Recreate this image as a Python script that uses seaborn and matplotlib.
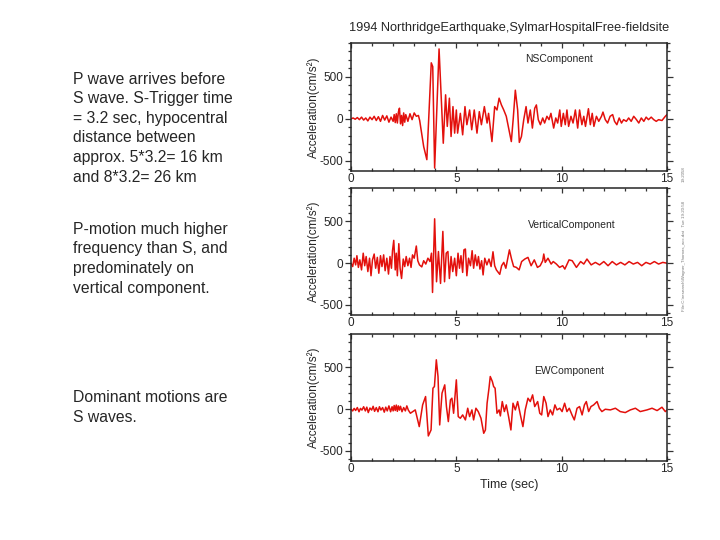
import pandas as pd
import matplotlib.pyplot as plt
import seaborn as sns
from matplotlib.ticker import MultipleLocator

ns_time = [0.0, 0.1, 0.2, 0.3, 0.4, 0.5, 0.6, 0.7, 0.8, 0.9, 1.0, 1.1, 1.2, 1.3, 1.4, 1.5,
           1.6, 1.7, 1.8, 1.9, 2.0, 2.05, 2.1, 2.15, 2.2, 2.25, 2.3, 2.35, 2.4, 2.45, 2.5,
           2.55, 2.6, 2.7, 2.8, 2.9, 3.0, 3.1, 3.2, 3.26, 3.45, 3.6, 3.81, 3.88, 3.97, 4.18,
           4.38, 4.49, 4.57, 4.67, 4.75, 4.84, 4.92, 5.0, 5.06, 5.19, 5.3, 5.41, 5.5, 5.63,
           5.73, 5.85, 5.98, 6.09, 6.19, 6.33, 6.46, 6.53, 6.69, 6.82, 6.93, 7.03, 7.14,
           7.25, 7.37, 7.48, 7.61, 7.7, 7.8, 7.91, 7.99, 8.09, 8.2, 8.31, 8.4, 8.51, 8.61,
           8.72, 8.8, 8.89, 8.99, 9.1, 9.19, 9.3, 9.4, 9.49, 9.62, 9.72, 9.81, 9.91, 9.98,
           10.08, 10.17, 10.25, 10.33, 10.44, 10.54, 10.65, 10.76, 10.85, 10.96, 11.05,
           11.13, 11.27, 11.36, 11.45, 11.53, 11.65, 11.76, 11.89, 11.96, 12.07, 12.18,
           12.3, 12.42, 12.51, 12.62, 12.73, 12.84, 12.94, 13.07, 13.18, 13.3, 13.42, 13.55,
           13.66, 13.78, 13.9, 14.01, 14.12, 14.25, 14.37, 14.49, 14.6, 14.76, 14.92, 15.0]
ns_accel = [0, 10, -5, 15, -10, 20, -15, 10, -25, 20, -10, 30, -20, 25, -30, 40,
            -15, 35, -40, 20, -30, 50, -45, 60, -50, 80, 126, -60, 40, -80, 70,
            -40, 50, -30, 60, -10, 70, 30, 40, -20, -330, -485, 665, 620, -585, 830,
            -290, 285, -90, 245, -210, 145, -170, 105, -170, 65, -190, 145, -70, 105,
            -130, 105, -170, 85, -70, 145, -50, 65, -270, 145, 105, 245, 165,
            105, 30, -110, -270, 0, 340, 105, -280, -210, -10, 145, -50, 105, -110,
            125, 165, -10, -70, 10, -50, 30, -10, 65, -110, 10, -50, 105, -90,
            65, -70, 105, -90, 30, -50, 105, -110, 105, -70, 30,
            -90, 120, -70, 65, -90, 30, -30, 30, 80, -10, -50,
            30, 50, -30, -70, 10, -50, -10, -30, 10, -30, 30, -10,
            -50, 10, -30, 20, -10, 20, -10, -30, -10, -20, 30, 50]

vert_time = [0.0, 0.08, 0.15, 0.22, 0.28, 0.35, 0.42, 0.5, 0.58, 0.65, 0.72, 0.8, 0.88,
             0.95, 1.02, 1.1, 1.17, 1.25, 1.32, 1.4, 1.47, 1.55, 1.62, 1.7, 1.78, 1.85,
             1.92, 1.97, 2.03, 2.1, 2.15, 2.2, 2.27, 2.33, 2.4, 2.48, 2.55, 2.62, 2.7,
             2.78, 2.85, 2.92, 3.0, 3.1, 3.17, 3.25, 3.36, 3.45, 3.55, 3.65, 3.75, 3.82,
             3.87, 3.97, 4.06, 4.15, 4.25, 4.36, 4.44, 4.52, 4.6, 4.67, 4.75, 4.83, 4.92,
             5.0, 5.08, 5.15, 5.22, 5.3, 5.36, 5.43, 5.5, 5.58, 5.67, 5.75, 5.82, 5.9,
             5.98, 6.05, 6.12, 6.2, 6.27, 6.35, 6.45, 6.55, 6.65, 6.74, 6.82, 6.9, 7.06,
             7.15, 7.25, 7.35, 7.52, 7.62, 7.72, 7.85, 7.98, 8.1, 8.25, 8.4, 8.55, 8.7,
             8.85, 8.98, 9.1, 9.15, 9.22, 9.35, 9.5, 9.6, 9.75, 9.9, 10.05, 10.15, 10.35,
             10.5, 10.7, 10.9, 11.05, 11.2, 11.4, 11.6, 11.8, 12.0, 12.2, 12.4, 12.6,
             12.8, 13.0, 13.2, 13.4, 13.6, 13.8, 14.0, 14.2, 14.4, 14.6, 14.8, 15.0]
vert_accel = [0, -40, 60, -20, 90, -50, 40, -80, 120, -30, 80, -100, 60,
              -150, 40, 110, -60, 70, -120, 90, -40, 100, -90, 60, -130, 80,
              -60, 150, 274, -80, 120, -150, 234, -60, -183, 50, -40, 80, -30,
              60, -50, 100, 60, 206, 30, -20, -44, 30, -10, 60, 20, 120,
              -350, 532, -222, 140, -242, 381, -222, 120, 140, -183, 80, -100, 60,
              -150, 120, -60, 90, -110, 160, 170, -150, 60, -30, 150, -60, 100,
              -30, 80, -70, 30, -140, 60, -20, 50, -40, 137, -30, -80, -133,
              -30, 10, -60, 160, 50, -40, -50, -80, 20, 50, 70, -30, 40,
              -50, -30, 30, 110, 10, 60, -10, 20, -10, -50, -30, -70, 40,
              30, -50, 20, -10, 50, -20, 10, -20, 20, -30, 20, -20,
              10, -20, 20, -10, 10, -30, 10, -10, 20, -10, 10, 0]

ew_time = [0.0, 0.08, 0.15, 0.22, 0.3, 0.38, 0.45, 0.52, 0.6, 0.68, 0.75, 0.82, 0.9,
           0.98, 1.05, 1.12, 1.2, 1.28, 1.35, 1.42, 1.5, 1.58, 1.65, 1.72, 1.8, 1.88,
           1.95, 2.0, 2.05, 2.1, 2.15, 2.2, 2.25, 2.3, 2.35, 2.42, 2.5, 2.58, 2.65, 2.72,
           2.82, 3.05, 3.24, 3.40, 3.54, 3.67, 3.80, 3.89, 3.96, 4.05, 4.13, 4.21, 4.32,
           4.45, 4.53, 4.62, 4.72, 4.79, 4.87, 5.00, 5.09, 5.19, 5.30, 5.43, 5.54, 5.63,
           5.74, 5.82, 5.93, 6.04, 6.17, 6.30, 6.38, 6.46, 6.55, 6.61, 6.71, 6.77, 6.84,
           6.93, 7.03, 7.09, 7.18, 7.28, 7.37, 7.48, 7.59, 7.69, 7.80, 7.91, 8.04, 8.16,
           8.27, 8.40, 8.51, 8.62, 8.72, 8.86, 8.96, 9.05, 9.15, 9.26, 9.35, 9.46, 9.57,
           9.68, 9.78, 9.91, 10.02, 10.14, 10.25, 10.36, 10.49, 10.60, 10.73, 10.85,
           10.97, 11.08, 11.17, 11.28, 11.39, 11.52, 11.68, 11.79, 11.91, 12.07, 12.31,
           12.55, 12.78, 13.02, 13.26, 13.50, 13.73, 14.05, 14.29, 14.53, 14.76, 14.92,
           15.0]
ew_accel = [0, -20, 10, -15, 20, -30, 10, -10, 30, -20, 25, -40, 15,
            -10, 35, -25, 20, -30, 30, -10, 20, -35, 25, -20, 40, -30,
            30, -20, 45, -15, 50, -25, 40, -10, 35, -30, 20, -20, 40, -10,
            -48, -8, -208, 52, 152, -320, -248, 252, 272, 592, 392, -188, 192,
            292, 32, -148, 112, 132, -48, 352, -88, -108, -68, -128, 12, -88,
            -8, -128, 12, -28, -108, -288, -248, 72, 252, 392, 332, 272, 252,
            -48, -8, -80, 92, -28, 52, -88, -248, 72, -8, 92, -68, -208,
            -8, 132, 92, 172, 32, 92, -48, -68, 152, 72, -88, -8, -68,
            52, -8, 12, -28, 72, -28, 12, -68, -128, 12, 32,
            -68, 52, 92, -28, 32, 52, 92, 12, -28, 0, -8,
            12, -28, -40, -8, 12, -28, -8, 12, -16, 24, -28,
            -10]

components = ["NSComponent", "VerticalComponent", "EWComponent"]
traces = [(ns_time, ns_accel), (vert_time, vert_accel), (ew_time, ew_accel)]

sns.set_style("ticks")
plt.rcParams["font.family"] = ["Liberation Sans", "DejaVu Sans"]
plt.rcParams["axes.unicode_minus"] = False

fig = plt.figure(figsize=(7.2, 5.4), dpi=100)

# panel boxes in figure fractions: left, bottom, width, height
boxes = [(0.4875, 0.6833, 0.4389, 0.237),
         (0.4875, 0.4167, 0.4389, 0.235),
         (0.4875, 0.1463, 0.4389, 0.235)]
label_pos = [(0.55, 0.875), (0.56, 0.71), (0.58, 0.71)]

for i, (box, name, (t, a)) in enumerate(zip(boxes, components, traces)):
    ax = fig.add_axes(box)
    df = pd.DataFrame({"Time": t, "Accel": a})
    sns.lineplot(data=df, x="Time", y="Accel", ax=ax, color="#e3100c",
                 linewidth=1.1, estimator=None, sort=False)
    ax.set_xlim(0, 15)
    ax.set_ylim(-620, 900)
    ax.xaxis.set_major_locator(MultipleLocator(5))
    ax.xaxis.set_minor_locator(MultipleLocator(1))
    ax.yaxis.set_major_locator(MultipleLocator(500))
    ax.yaxis.set_minor_locator(MultipleLocator(100))
    ax.tick_params(which="both", top=True, right=True, labelsize=8.5,
                   width=0.9, color="#333333")
    ax.tick_params(axis="y", which="major", length=4, pad=1.5)
    ax.tick_params(axis="y", which="minor", length=2.5)
    ax.tick_params(axis="x", which="major", direction="in", length=3.5, pad=1.5)
    ax.tick_params(axis="x", which="minor", direction="in", length=2.5)
    for s in ax.spines.values():
        s.set_linewidth(1.1)
    ax.set_ylabel("Acceleration(cm/s²)", fontsize=8.5)
    ax.yaxis.set_label_coords(-0.097, 0.5)
    ax.set_xlabel("")
    ax.text(label_pos[i][0], label_pos[i][1], name, transform=ax.transAxes,
            fontsize=7.5, va="center", ha="left")
    if i == 0:
        ax.set_title("1994 NorthridgeEarthquake,SylmarHospitalFree-fieldsite",
                     fontsize=9.2, pad=9)
    if i == 2:
        ax.set_xlabel("Time (sec)", fontsize=9, labelpad=3)

# notes on the left
notes = [
    ("P wave arrives before", 84), ("S wave. S-Trigger time", 103.5),
    ("= 3.2 sec, hypocentral", 123), ("distance between", 142.5),
    ("approx. 5*3.2= 16 km", 162), ("and 8*3.2= 26 km", 181.5),
    ("P-motion much higher", 234), ("frequency than S, and", 253.5),
    ("predominately on", 273), ("vertical component.", 292.5),
    ("Dominant motions are", 402), ("S waves.", 421.5),
]
for line, ypx in notes:
    fig.text(73 / 720, 1 - ypx / 540, line, fontsize=11.3, va="baseline", ha="left")

# tiny file stamp on the right edge
fig.text(684 / 720, 1 - 256 / 540,
         r"File:C:\research\Wagner_Thomas_acc.dat   Tue 19:20:58",
         fontsize=3.2, rotation=90, color="#777777", va="center", ha="center")
fig.text(684 / 720, 1 - 174 / 540, "19:2058", fontsize=3.2, rotation=90,
         color="#777777", va="center", ha="center")

fig.savefig("out.png", dpi=100)
